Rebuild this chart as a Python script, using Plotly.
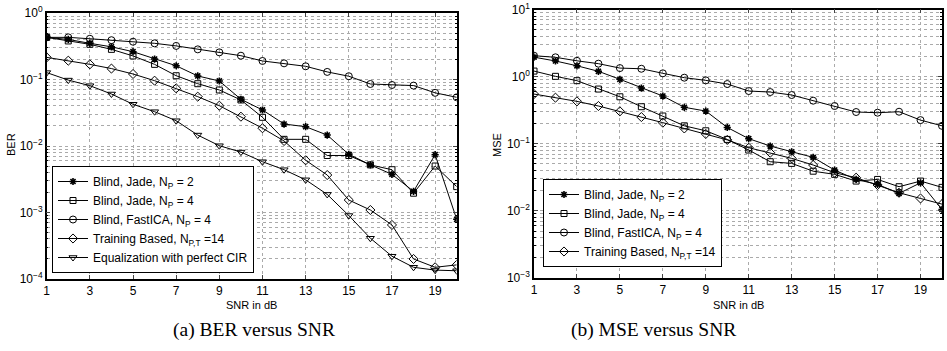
import plotly.graph_objects as go

snr = list(range(1, 21))

# (a) BER
ber_jade2 = [0.43, 0.40, 0.35, 0.31, 0.262, 0.203, 0.161, 0.113, 0.095, 0.0504,
             0.0348, 0.0214, 0.0195, 0.0146, 0.0075, 0.0052, 0.00375, 0.00208, 0.0074, 0.00079]
ber_jade4 = [0.43, 0.38, 0.338, 0.284, 0.226, 0.169, 0.114, 0.0865, 0.0696, 0.0492,
             0.027, 0.0126, 0.0126, 0.0072, 0.0072, 0.0052, 0.0044, 0.00195, 0.005, 0.00245]
ber_fastica = [0.43, 0.43, 0.41, 0.39, 0.37, 0.35, 0.32, 0.284, 0.256, 0.228,
               0.19, 0.175, 0.158, 0.13, 0.112, 0.0856, 0.0827, 0.081, 0.063, 0.054]
ber_train = [0.215, 0.192, 0.169, 0.146, 0.121, 0.096, 0.0736, 0.0552, 0.0404, 0.0276,
             0.0185, 0.0119, 0.0061, 0.00366, 0.00154, 0.00109, 0.00065, 0.0002, 0.00015, 0.000163]
ber_perfect = [0.127, 0.098, 0.0807, 0.0605, 0.0424, 0.0328, 0.024, 0.0146, 0.0101, 0.0081,
               0.0058, 0.0044, 0.0031, 0.00187, 0.0009, 0.00041, 0.00022, 0.00015, 0.000136, 0.000133]

# (b) MSE
mse_jade2 = [1.95, 1.71, 1.45, 1.2, 0.912, 0.676, 0.514, 0.349, 0.307, 0.175,
             0.119, 0.0925, 0.076, 0.0627, 0.0405, 0.0294, 0.0248, 0.0182, 0.0262, 0.0105]
mse_jade4 = [1.21, 1.01, 0.87, 0.653, 0.501, 0.356, 0.259, 0.185, 0.156, 0.116,
             0.0806, 0.054, 0.051, 0.039, 0.035, 0.0278, 0.0294, 0.0229, 0.0278, 0.0224]
mse_fastica = [2.05, 1.94, 1.72, 1.56, 1.34, 1.31, 1.12, 0.964, 0.88, 0.776,
               0.61, 0.589, 0.532, 0.438, 0.365, 0.297, 0.29, 0.30, 0.225, 0.185]
mse_train = [0.55, 0.486, 0.428, 0.365, 0.304, 0.25, 0.206, 0.169, 0.14, 0.114,
             0.0873, 0.0735, 0.0605, 0.0482, 0.037, 0.0312, 0.0243, 0.0186, 0.0153, 0.0126]

x_ticks = [1, 3, 5, 7, 9, 11, 13, 15, 17, 19]
ber_ticks = [1e-4, 1e-3, 1e-2, 1e-1, 1e0]
ber_ticktext = ["10<sup>−4</sup>", "10<sup>−3</sup>", "10<sup>−2</sup>", "10<sup>−1</sup>", "10<sup>0</sup>"]
mse_ticks = [1e-3, 1e-2, 1e-1, 1e0, 1e1]
mse_ticktext = ["10<sup>−3</sup>", "10<sup>−2</sup>", "10<sup>−1</sup>", "10<sup>0</sup>", "10<sup>1</sup>"]

names_a = ["Blind, Jade, N<sub>P</sub> = 2", "Blind, Jade, N<sub>P</sub> = 4",
           "Blind, FastICA, N<sub>P</sub> = 4", "Training Based, N<sub>P,T</sub> =14",
           "Equalization with perfect CIR"]
symbols = ["asterisk-open", "square-open", "circle-open", "diamond-open", "triangle-down-open"]
sizes = [6, 6, 7, 7, 7]
widths = [1.6, 1, 1, 1, 1]

W, H = 947, 351
SANS = "Liberation Sans, Arial, sans-serif"
fig = go.Figure()

def add_series(series, xa, ya, leg):
    for i, ys in enumerate(series):
        fig.add_trace(go.Scatter(x=snr, y=ys, mode="lines+markers", name=names_a[i],
                                 line=dict(color="black", width=1),
                                 marker=dict(symbol=symbols[i], size=sizes[i], color="black",
                                             line=dict(color="black", width=widths[i])),
                                 xaxis=xa, yaxis=ya, legend=leg))

add_series([ber_jade2, ber_jade4, ber_fastica, ber_train, ber_perfect], "x", "y", "legend")
add_series([mse_jade2, mse_jade4, mse_fastica, mse_train], "x2", "y2", "legend2")

tickfont = dict(family=SANS, size=12, color="black")
GRIDC = "#aaaaaa"

def xax(domain, anchor):
    return dict(domain=domain, anchor=anchor, range=[1, 20], tickvals=x_ticks,
                ticks="inside", ticklen=4, mirror="ticks", showline=True,
                linecolor="black", linewidth=1.5, tickfont=tickfont, zeroline=False,
                automargin=False, showgrid=True, gridcolor=GRIDC, griddash="dot", gridwidth=1)

def yax(domain, anchor, rng, tv, tt):
    return dict(domain=domain, anchor=anchor, type="log", range=rng, tickvals=tv, ticktext=tt,
                ticks="inside", ticklen=4, mirror="ticks", showline=True,
                linecolor="black", linewidth=1.5, tickfont=tickfont, zeroline=False,
                automargin=False, showgrid=True, gridcolor=GRIDC, griddash="dot", gridwidth=1,
                minor=dict(dtick="D1", showgrid=True, gridcolor=GRIDC, griddash="dot",
                           gridwidth=1, ticks="inside", ticklen=2, tickcolor="black"))

yA = [1 - 279 / H, 1 - 13 / H]
yB = [1 - 278 / H, 1 - 9.5 / H]

legfont = dict(family=SANS, size=12, color="black")

def ann(text, x, y, size, family=SANS, angle=0):
    return dict(text=text, x=x / W, y=1 - y / H, xref="paper", yref="paper",
                xanchor="center", yanchor="middle", showarrow=False, textangle=angle,
                font=dict(family=family, size=size, color="black"))

fig.update_layout(
    width=W, height=H, margin=dict(l=0, r=0, t=0, b=0, autoexpand=False),
    paper_bgcolor="white", plot_bgcolor="white",
    xaxis=xax([46.7 / W, 456.7 / W], "y"),
    yaxis=yax(yA, "x", [-4, 0], ber_ticks, ber_ticktext),
    xaxis2=xax([534 / W, 942 / W], "y2"),
    yaxis2=yax(yB, "x2", [-3, 1], mse_ticks, mse_ticktext),
    legend=dict(x=52 / W, y=1 - 166 / H, xanchor="left", yanchor="top",
                bgcolor="white", bordercolor="black", borderwidth=1, font=legfont,
                itemwidth=30, tracegroupgap=0),
    legend2=dict(x=543 / W, y=1 - 179 / H, xanchor="left", yanchor="top",
                 bgcolor="white", bordercolor="black", borderwidth=1, font=legfont,
                 itemwidth=30, tracegroupgap=0),
    showlegend=True,
    annotations=[
        ann("BER", 11, 145, 11, angle=-90),
        ann("MSE", 497, 145, 11, angle=-90),
        ann("SNR in dB", 251.7, 304.5, 11),
        ann("SNR in dB", 738, 304.5, 11),
        ann("(a) BER versus SNR", 254, 330, 19.5, family="Liberation Serif, DejaVu Serif, serif"),
        ann("(b) MSE versus SNR", 653, 330, 19.5, family="Liberation Serif, DejaVu Serif, serif"),
    ],
)

fig.write_html("out.html", config={"displayModeBar": False},
               post_script="document.body.style.margin='0';document.body.style.overflow='hidden';")
